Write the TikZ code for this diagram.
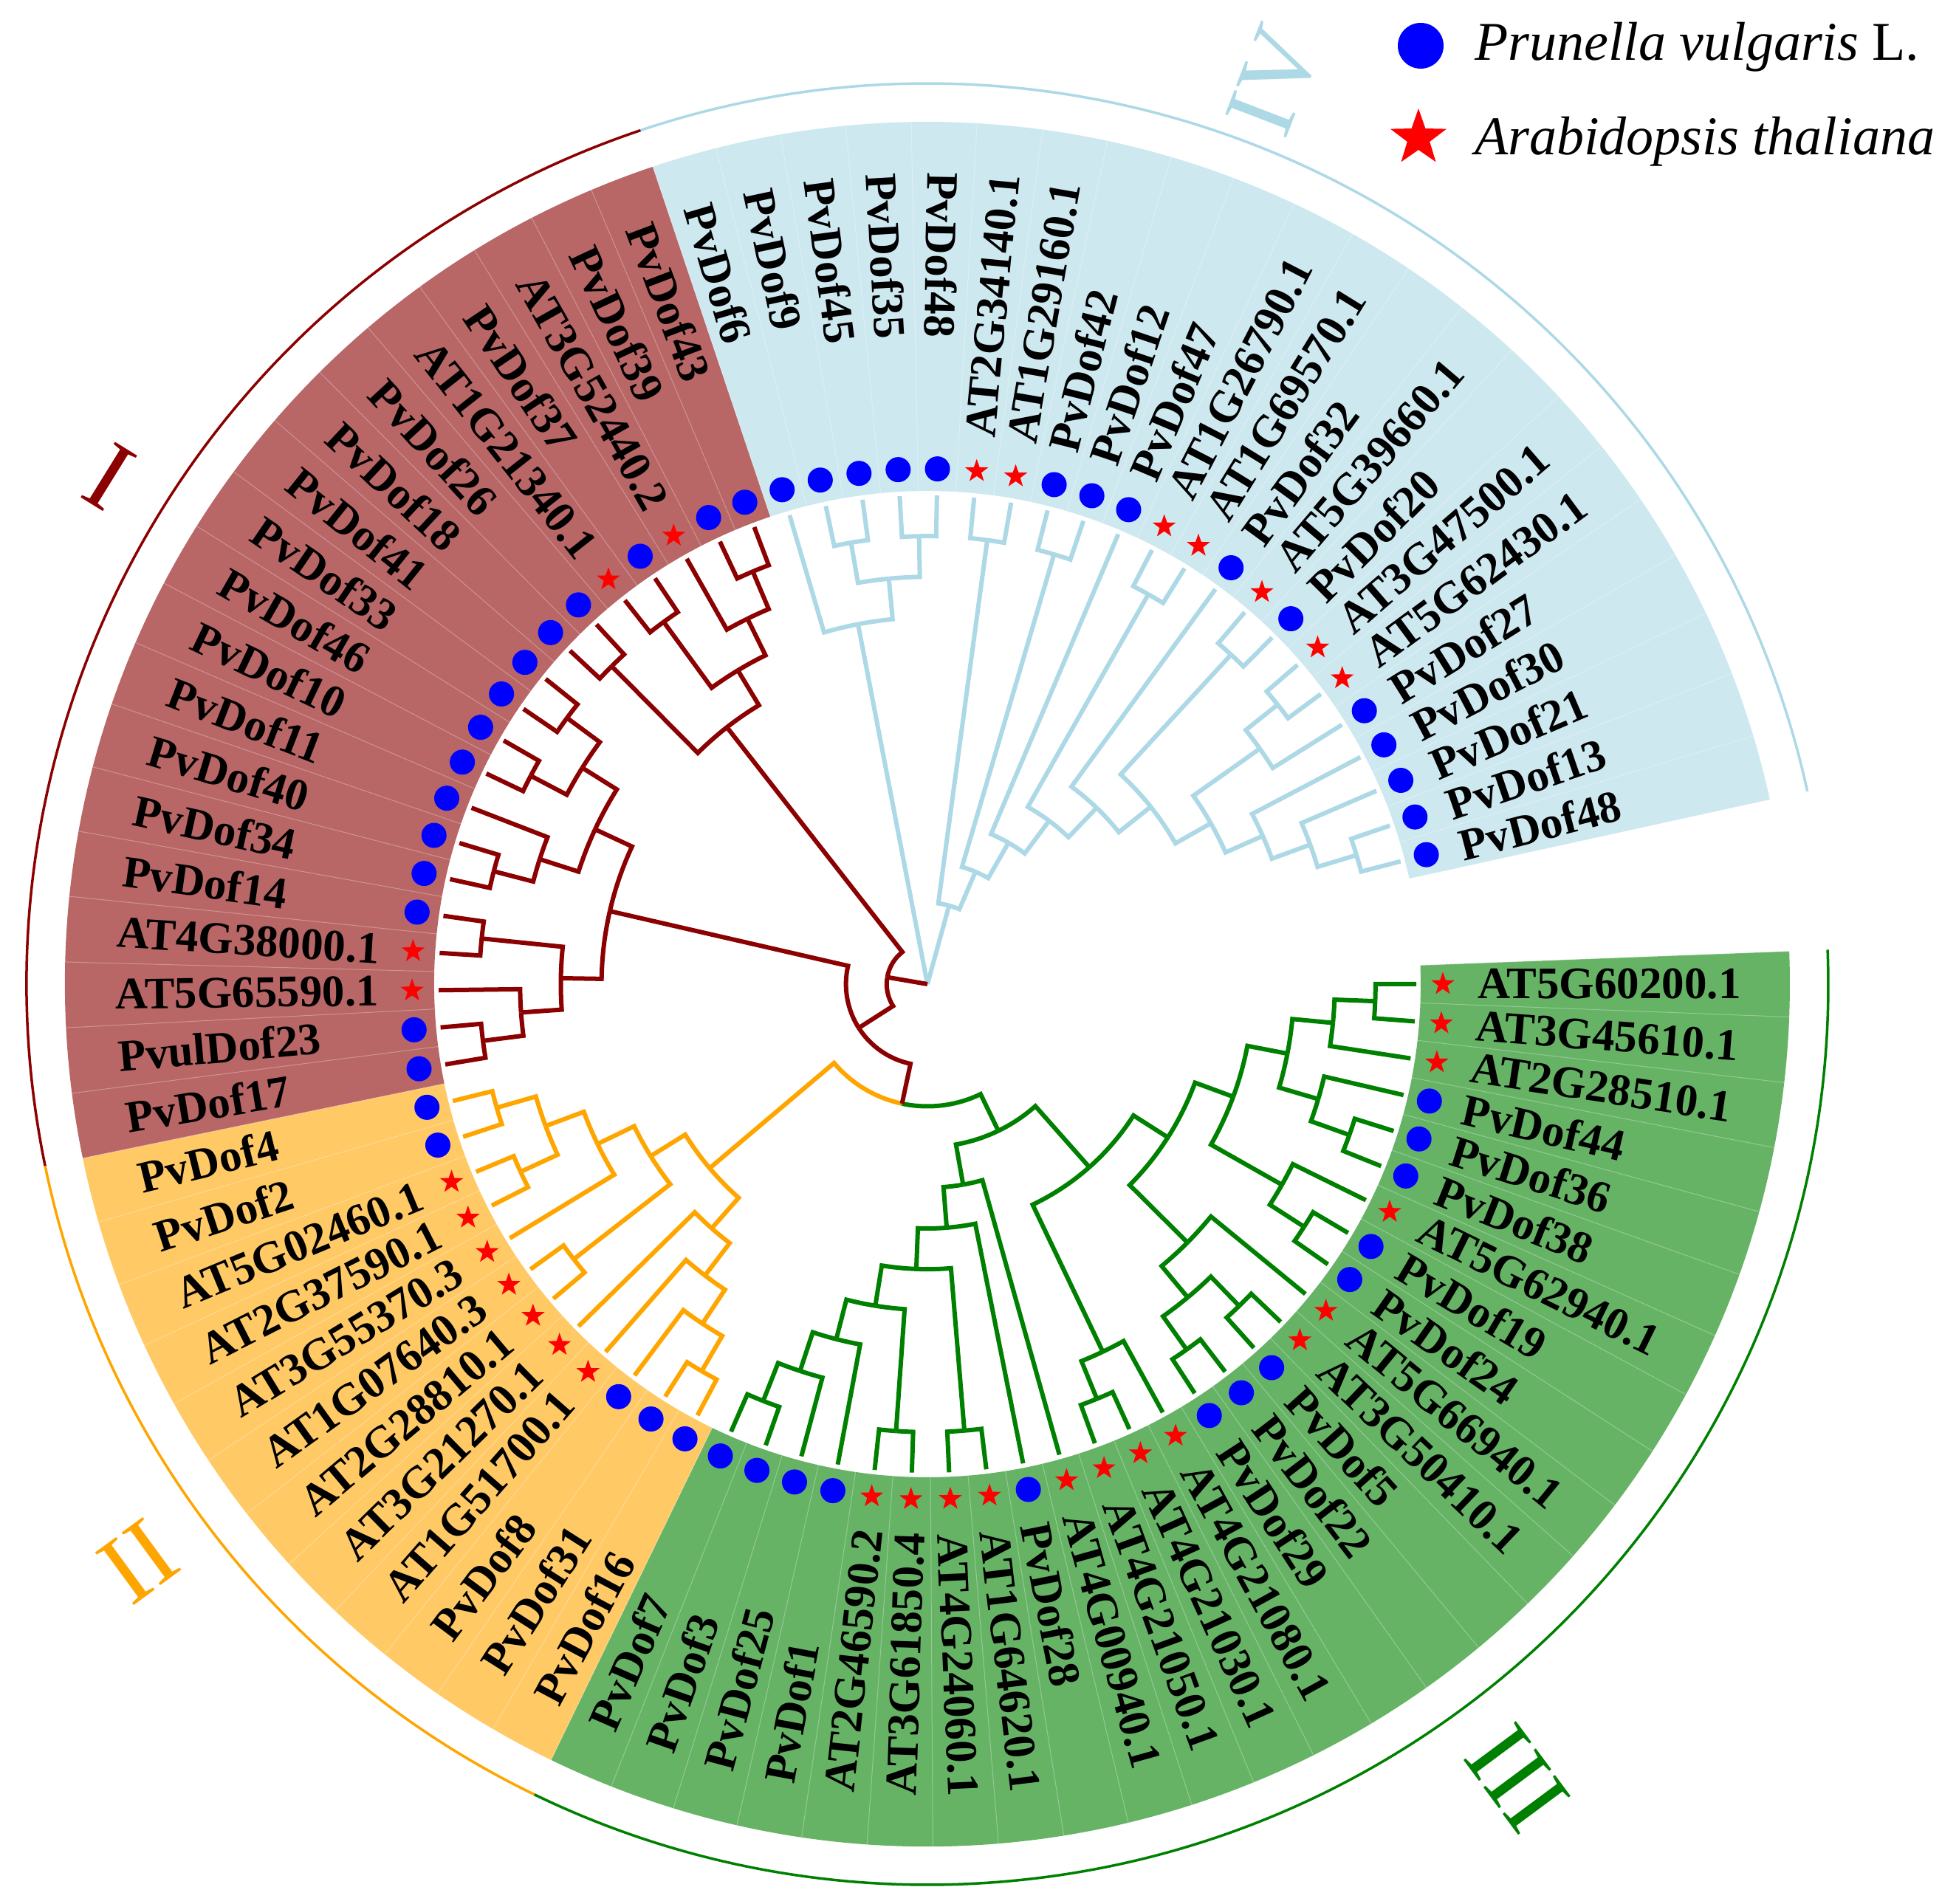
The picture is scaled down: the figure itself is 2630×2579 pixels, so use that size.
\documentclass[tikz,border=0pt]{standalone}
\usepackage{fontspec}
\setmainfont{Liberation Serif}
\usepackage{tikz}
\usetikzlibrary{shapes.geometric}

\definecolor{cone}{RGB}{139,0,0}
\definecolor{ctwo}{RGB}{255,165,0}
\definecolor{cthree}{RGB}{0,128,0}
\definecolor{cfour}{RGB}{173,216,230}

\newcommand{\stepang}{4.3728}
\newcommand{\rtip}{662}

% one join of the tree: name, first child, second child, colours
\newcommand{\cladec}[5]{%
  \pgfmathsetmacro\hA{\csname h@#2\endcsname}%
  \pgfmathsetmacro\hB{\csname h@#3\endcsname}%
  \pgfmathsetmacro\angA{\csname a@#2\endcsname}%
  \pgfmathsetmacro\angB{\csname a@#3\endcsname}%
  \pgfmathsetmacro\hM{max(\hA,\hB)+1}%
  \pgfmathsetmacro\angM{(\angA+\angB)/2}%
  \pgfmathsetmacro\rM{\rtip*(1-\hM/12)}%
  \expandafter\xdef\csname h@#1\endcsname{\hM}%
  \expandafter\xdef\csname a@#1\endcsname{\angM}%
  \coordinate (#1) at (\angM:\rM);
  \draw[branch,#4] (#2) -- (\angA:\rM) arc[start angle=\angA, end angle=\angM, radius=\rM pt];
  \draw[branch,#5] (#3) -- (\angB:\rM) arc[start angle=\angB, end angle=\angM, radius=\rM pt];
}
\newcommand{\clade}[4]{\cladec{#1}{#2}{#3}{#4}{#4}}

% coloured band behind the labels: colour, first leaf, last leaf
\newcommand{\sector}[3]{%
  \pgfmathsetmacro\secA{-(#2-0.5)*\stepang}%
  \pgfmathsetmacro\secB{-(#3+0.5)*\stepang}%
  \fill[#1!60] (\secA:668) arc[start angle=\secA, end angle=\secB, radius=668pt]
    -- (\secB:1168) arc[start angle=\secB, end angle=\secA, radius=1168pt] -- cycle;
  \draw[#1, line width=3.5pt] (\secA:1220) arc[start angle=\secA, end angle=\secB, radius=1220pt];
}

\begin{document}
\begin{tikzpicture}[x=1pt,y=1pt,
  branch/.style={line width=6pt},
  sepline/.style={white, opacity=.3, line width=1pt},
  lab/.style={inner sep=0pt, font=\fontsize{61}{61}\selectfont\bfseries},
  numeral/.style={inner sep=0pt, font=\fontsize{135}{135}\selectfont},
  arastar/.style={star, star points=5, star point ratio=2.5, fill=red, draw=none, inner sep=0pt, minimum size=33pt}]
	\useasboundingbox (-1256,-1246) rectangle (1374,1333);

	%bands and outer rings
	\sector{cthree}{0}{26}
	\sector{ctwo}{27}{38}
	\sector{cone}{39}{57}
	\sector{cfour}{58}{79}

	%leaves: markers and labels
	\foreach \lab/\kind [count=\i from 0] in {AT5G60200.1/a, AT3G45610.1/a, AT2G28510.1/a, PvDof44/p, PvDof36/p, PvDof38/p, AT5G62940.1/a, PvDof19/p, PvDof24/p, AT5G66940.1/a, AT3G50410.1/a, PvDof5/p, PvDof22/p, PvDof29/p, AT4G21080.1/a, AT4G21030.1/a, AT4G21050.1/a, AT4G00940.1/a, PvDof28/p, AT1G64620.1/a, AT4G24060.1/a, AT3G61850.4/a, AT2G46590.2/a, PvDof1/p, PvDof25/p, PvDof3/p, PvDof7/p,
	PvDof16/p, PvDof31/p, PvDof8/p, AT1G51700.1/a, AT3G21270.1/a, AT2G28810.1/a, AT1G07640.3/a, AT3G55370.3/a, AT2G37590.1/a, AT5G02460.1/a, PvDof2/p, PvDof4/p,
	PvDof17/p, PvulDof23/p, AT5G65590.1/a, AT4G38000.1/a, PvDof14/p, PvDof34/p, PvDof40/p, PvDof11/p, PvDof10/p, PvDof46/p, PvDof33/p, PvDof41/p, PvDof18/p, PvDof26/p, AT1G21340.1/a, PvDof37/p, AT3G52440.2/a, PvDof39/p, PvDof43/p,
	PvDof6/p, PvDof9/p, PvDof45/p, PvDof35/p, PvDof48/p, AT2G34140.1/a, AT1G29160.1/a, PvDof42/p, PvDof12/p, PvDof47/p, AT1G26790.1/a, AT1G69570.1/a, PvDof32/p, AT5G39660.1/a, PvDof20/p, AT3G47500.1/a, AT5G62430.1/a, PvDof27/p, PvDof30/p, PvDof21/p, PvDof13/p, PvDof48/p}
	{
		\pgfmathsetmacro\ang{-\i*\stepang}
		\expandafter\xdef\csname a@L\i\endcsname{\ang}
		\expandafter\xdef\csname h@L\i\endcsname{0}
		\coordinate (L\i) at (\ang:\rtip);
		\draw[sepline] ({\ang+\stepang/2}:668) -- ({\ang+\stepang/2}:1168);
		\if p\kind
			\fill[blue] (\ang:698) circle[radius=17pt];
		\else
			\node[arastar] (m\i) at (\ang:698) {};
		\fi
		\ifnum\i<21
			\node[lab, anchor=west, rotate=\ang] (n\i) at (\ang:745) {\lab};
		\else\ifnum\i>62
			\node[lab, anchor=west, rotate=\ang] (n\i) at (\ang:745) {\lab};
		\else
			\pgfmathsetmacro\rot{\ang+180}
			\node[lab, anchor=west, rotate=\rot] (n\i) at (\ang:1100) {\lab};
		\fi\fi
	}

	%clade III
	\clade{g1}{L0}{L1}{cthree}
	\clade{g2}{L2}{g1}{cthree}
	\clade{g3}{L5}{L4}{cthree}
	\clade{g4}{g3}{L3}{cthree}
	\clade{g5}{g4}{g2}{cthree}
	\clade{g6}{L8}{L7}{cthree}
	\clade{g7}{g6}{L6}{cthree}
	\clade{g8}{g7}{g5}{cthree}
	\clade{g9}{L11}{L10}{cthree}
	\clade{g10}{L13}{L12}{cthree}
	\clade{g11}{g10}{g9}{cthree}
	\clade{g12}{g11}{L9}{cthree}
	\clade{g13}{g12}{g8}{cthree}
	\clade{g14}{L16}{L15}{cthree}
	\clade{g15}{g14}{L14}{cthree}
	\clade{g16}{g15}{g13}{cthree}
	\clade{g17}{L26}{L25}{cthree}
	\clade{g18}{g17}{L24}{cthree}
	\clade{g19}{g18}{L23}{cthree}
	\clade{g20}{L22}{L21}{cthree}
	\clade{g21}{g19}{g20}{cthree}
	\clade{g22}{L20}{L19}{cthree}
	\clade{g23}{g21}{g22}{cthree}
	\clade{g24}{g23}{L18}{cthree}
	\clade{g25}{g24}{L17}{cthree}
	\clade{g26}{g25}{g16}{cthree}

	%clade II
	\clade{o1}{L38}{L37}{ctwo}
	\clade{o2}{L36}{L35}{ctwo}
	\clade{o3}{o1}{o2}{ctwo}
	\clade{o4}{o3}{L34}{ctwo}
	\clade{o5}{L33}{L32}{ctwo}
	\clade{o6}{o4}{o5}{ctwo}
	\clade{o7}{L28}{L27}{ctwo}
	\clade{o8}{L29}{o7}{ctwo}
	\clade{o9}{L30}{o8}{ctwo}
	\clade{o10}{L31}{o9}{ctwo}
	\clade{o11}{o6}{o10}{ctwo}
	\cladec{x1}{o11}{g26}{ctwo}{cthree}

	%clade I
	\clade{r1}{L40}{L39}{cone}
	\clade{r2}{L41}{r1}{cone}
	\clade{r3}{L43}{L42}{cone}
	\clade{r4}{r3}{r2}{cone}
	\clade{r5}{L45}{L44}{cone}
	\clade{r6}{L46}{r5}{cone}
	\clade{r7}{L48}{L47}{cone}
	\clade{r8}{L50}{L49}{cone}
	\clade{r9}{r8}{r7}{cone}
	\clade{r10}{r9}{r6}{cone}
	\clade{r11}{r10}{r4}{cone}
	\clade{x2}{r11}{x1}{cone}
	\clade{r12}{L57}{L56}{cone}
	\clade{r13}{r12}{L55}{cone}
	\clade{r14}{L54}{L53}{cone}
	\clade{r15}{r13}{r14}{cone}
	\clade{r16}{L52}{L51}{cone}
	\clade{r17}{r15}{r16}{cone}
	\clade{x3}{r17}{x2}{cone}

	%clade IV
	\clade{b1}{L59}{L60}{cfour}
	\clade{b2}{L61}{L62}{cfour}
	\clade{b3}{b1}{b2}{cfour}
	\clade{b4}{L58}{b3}{cfour}
	\clade{b5}{L63}{L64}{cfour}
	\clade{b6}{L65}{L66}{cfour}
	\clade{b7}{L68}{L69}{cfour}
	\clade{b8}{L71}{L72}{cfour}
	\clade{b9}{L73}{L74}{cfour}
	\clade{b10}{b9}{L75}{cfour}
	\clade{b11}{L78}{L79}{cfour}
	\clade{b12}{L77}{b11}{cfour}
	\clade{b13}{L76}{b12}{cfour}
	\clade{b14}{b10}{b13}{cfour}
	\clade{b15}{b8}{b14}{cfour}
	\clade{b16}{L70}{b15}{cfour}
	\clade{b17}{b7}{b16}{cfour}
	\clade{b18}{L67}{b17}{cfour}
	\clade{b19}{b6}{b18}{cfour}
	\clade{b20}{b5}{b19}{cfour}

	%root
	\coordinate (root) at (0,0);
	\draw[branch,cfour] (root) -- (b4);
	\draw[branch,cfour] (root) -- (b20);
	\draw[branch,cone] (root) -- (x3);

	%clade numbers
	\node[numeral, text=cone, rotate=-31.8] (numI) at (148.2:1304) {I};
	\node[numeral, text=ctwo, rotate=36.2] (numII) at (216.2:1324) {II};
	\node[numeral, text=cthree, rotate=-53.4] (numIII) at (-53.4:1340) {III};
	\node[numeral, text=cfour, rotate=69] (numIV) at (69:1311) {IV};

	%legend
	\fill[blue] (668,1271) circle[radius=31pt];
	\node[arastar, minimum size=80pt] (legstar) at (665,1146) {};
	\node[anchor=base west, inner sep=0pt, font=\fontsize{74}{74}\selectfont] (legp) at (741,1251) {\textit{Prunella vulgaris} L.};
	\node[anchor=base west, inner sep=0pt, font=\fontsize{74}{74}\selectfont] (lega) at (741,1123) {\textit{Arabidopsis thaliana}};
\end{tikzpicture}
\end{document}
